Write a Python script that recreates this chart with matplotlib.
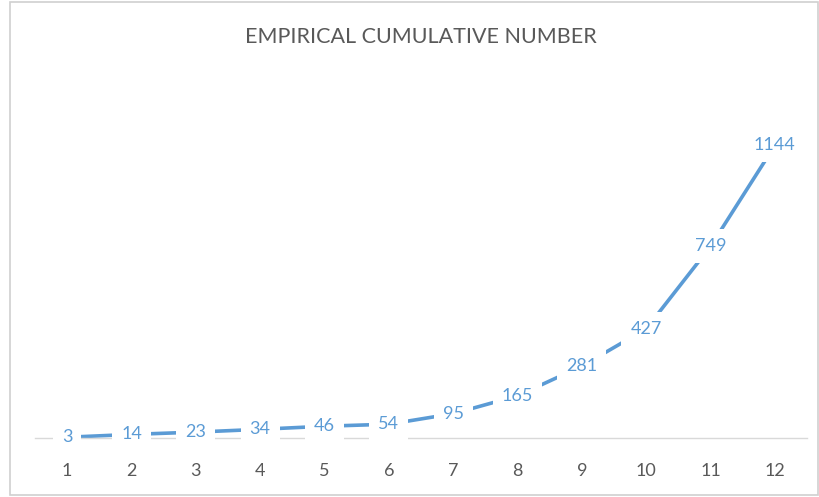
import matplotlib
matplotlib.use("Agg")
import matplotlib.pyplot as plt
from matplotlib.patches import Rectangle

months = [1, 2, 3, 4, 5, 6, 7, 8, 9, 10, 11, 12]
cumulative = [3, 14, 23, 34, 46, 54, 95, 165, 281, 427, 749, 1144]
title = "EMPIRICAL CUMULATIVE NUMBER"

line_color = "#5B9BD5"
text_gray = "#595959"
font = ["Lato", "DejaVu Sans"]

W, H = 820, 497
fig = plt.figure(figsize=(W / 100, H / 100), dpi=100)
fig.patch.set_facecolor("white")

# chart frame
fig.add_artist(Rectangle((10 / W, 2 / H), 808 / W, 493 / H, transform=fig.transFigure,
                         fill=False, edgecolor="#D0D0D0", linewidth=1.2))

left, right = 35 / W, 807 / W
bottom, top = 1 - 438 / H, 1 - 80 / H
ax = fig.add_axes([left, bottom, right - left, top - bottom])
ax.set_xlim(0.5, 12.5)
ax.set_ylim(0, 1400)

ax.plot(months, cumulative, color=line_color, linewidth=2.6, solid_capstyle="round", zorder=2)

for m, v in zip(months, cumulative):
    ax.text(m, v, str(v), ha="center", va="center", fontsize=13, color="#5B9BD5",
            family=font, zorder=3,
            bbox=dict(boxstyle="square,pad=0.5", facecolor="white", edgecolor="none"))

for s in ["top", "right", "left"]:
    ax.spines[s].set_visible(False)
ax.spines["bottom"].set_color("#D9D9D9")
ax.spines["bottom"].set_linewidth(1.0)
ax.set_yticks([])
ax.set_xticks(months)
ax.set_xticklabels([str(m) for m in months], fontsize=13, color=text_gray, family=font)
ax.tick_params(axis="x", length=0, pad=18)
ax.patch.set_alpha(0)

fig.text(421 / W, 1 - 37 / H, title, ha="center", va="center", fontsize=15.5,
         color=text_gray, family=font)

fig.savefig("out.png", dpi=100)
